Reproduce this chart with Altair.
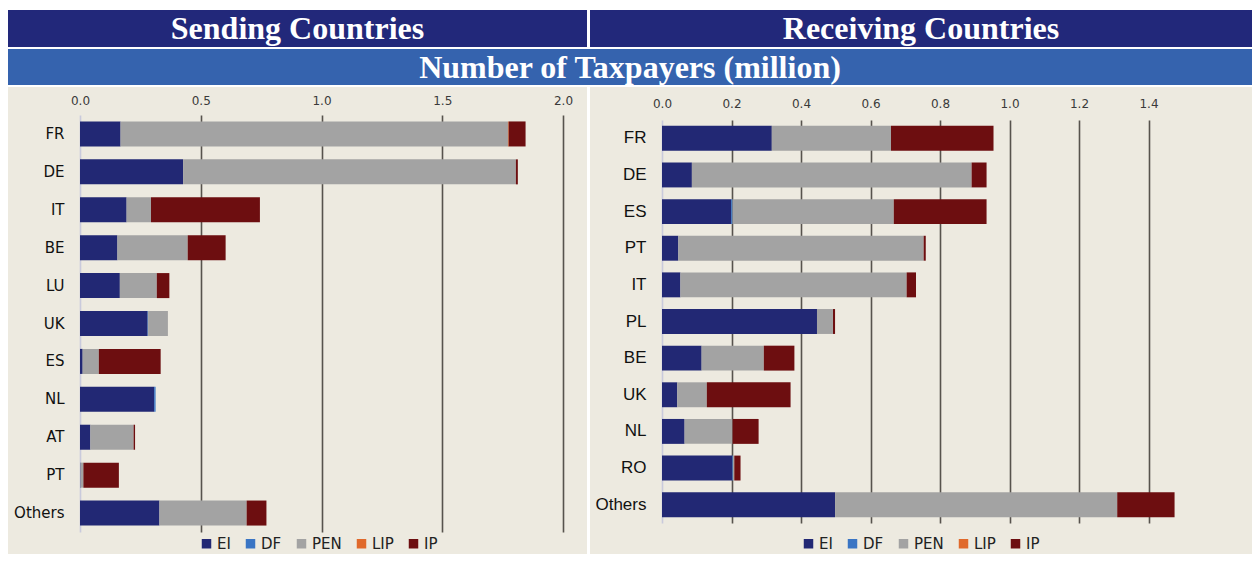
import altair as alt
import pandas as pd

# ---------------- data ----------------
types = ["EI", "DF", "PEN", "LIP", "IP"]
type_colors = ["#222874", "#3A75C4", "#A3A3A3", "#E0692B", "#6D0E10"]

panel_titles = ["Sending Countries", "Receiving Countries"]
main_title = "Number of Taxpayers (million)"

send_countries = ["FR", "DE", "IT", "BE", "LU", "UK", "ES", "NL", "AT", "PT", "Others"]
send_EI = [0.168, 0.427, 0.193, 0.155, 0.165, 0.280, 0.011, 0.307, 0.043, 0.002, 0.329]
send_DF = [0.0, 0.0, 0.0, 0.0, 0.0, 0.002, 0.0, 0.006, 0.0, 0.0, 0.0]
send_PEN = [1.604, 1.378, 0.101, 0.291, 0.153, 0.082, 0.067, 0.0, 0.179, 0.012, 0.361]
send_LIP = [0.003, 0.0, 0.0, 0.0, 0.0, 0.0, 0.0, 0.0, 0.0, 0.0, 0.0]
send_IP = [0.070, 0.008, 0.451, 0.157, 0.052, 0.0, 0.256, 0.0, 0.006, 0.147, 0.082]

recv_countries = ["FR", "DE", "ES", "PT", "IT", "PL", "BE", "UK", "NL", "RO", "Others"]
recv_EI = [0.316, 0.086, 0.199, 0.047, 0.053, 0.446, 0.114, 0.044, 0.065, 0.202, 0.498]
recv_DF = [0.0, 0.0, 0.004, 0.0, 0.0, 0.0, 0.0, 0.0, 0.0, 0.002, 0.0]
recv_PEN = [0.343, 0.805, 0.464, 0.706, 0.651, 0.046, 0.179, 0.085, 0.138, 0.004, 0.812]
recv_LIP = [0.0, 0.0, 0.0, 0.0, 0.0, 0.0, 0.0, 0.0, 0.0, 0.0, 0.0]
recv_IP = [0.295, 0.043, 0.267, 0.006, 0.027, 0.006, 0.088, 0.241, 0.075, 0.018, 0.165]

send_ticks = [0.0, 0.5, 1.0, 1.5, 2.0]
recv_ticks = [0.0, 0.2, 0.4, 0.6, 0.8, 1.0, 1.2, 1.4]

NAVY = "#22287A"
BLUE = "#3563AE"
BEIGE = "#EDEAE0"


def long_table(countries, series):
    rows = []
    for t_i, (t, vals) in enumerate(zip(types, series)):
        for c, v in zip(countries, vals):
            rows.append({"country": c, "type": t, "idx": t_i, "value": v})
    return pd.DataFrame(rows)


send_df = long_table(send_countries, [send_EI, send_DF, send_PEN, send_LIP, send_IP])
recv_df = long_table(recv_countries, [recv_EI, recv_DF, recv_PEN, recv_LIP, recv_IP])


def header(text, w, h, fill):
    return (
        alt.Chart(pd.DataFrame({"t": [text]}))
        .mark_text(font="Liberation Serif", fontWeight="bold", fontSize=32,
                   color="white", align="center", baseline="middle")
        .encode(x=alt.value(w / 2), y=alt.value(h / 2 + 0.5), text="t:N")
        .properties(width=w, height=h, view=alt.ViewBackground(fill=fill, strokeWidth=0))
    )


def panel(df, countries, ticks, xmax, xrange, yrange, pad_in, pad_out, w, h,
          ylab_font, ylab_size, xlab_pad, legx, legy):
    return (
        alt.Chart(df)
        .mark_bar()
        .encode(
            x=alt.X(
                "value:Q", stack="zero", title=None,
                scale=alt.Scale(domain=[0, xmax], range=xrange, nice=False),
                axis=alt.Axis(
                    orient="top", values=ticks, format=".1f", offset=-yrange[0],
                    ticks=False, tickSize=0, domain=False, labelPadding=xlab_pad,
                    labelFont="DejaVu Sans", labelFontSize=12, labelColor="#3A3A3A",
                    labelFlush=False, labelOverlap=False,
                    grid=True, gridWidth=1.6,
                    gridColor=alt.condition("datum.value == 0", alt.value("#C9CADC"), alt.value("#57534D")),
                ),
            ),
            y=alt.Y(
                "country:N", title=None,
                scale=alt.Scale(domain=countries, range=yrange,
                                paddingInner=pad_in, paddingOuter=pad_out),
                axis=alt.Axis(
                    orient="left", offset=-xrange[0], ticks=False, domain=False,
                    labelPadding=16, labelFont=ylab_font, labelFontSize=ylab_size,
                    labelColor="#111111", grid=False,
                ),
            ),
            color=alt.Color(
                "type:N",
                scale=alt.Scale(domain=types, range=type_colors),
                legend=alt.Legend(
                    title=None, orient="none", legendX=legx, legendY=legy,
                    direction="horizontal", symbolType="square", symbolSize=90,
                    symbolStrokeWidth=0, labelFont="DejaVu Sans", labelFontSize=15,
                    labelColor="#222222", columnPadding=12, labelOffset=3, padding=0,
                ),
            ),
            order=alt.Order("idx:Q"),
        )
        .properties(width=w, height=h, view=alt.ViewBackground(fill=BEIGE, strokeWidth=0))
    )


LW, RW, GAP = 579, 662, 3
PH = 467

left = panel(send_df, send_countries, send_ticks, 2.0, [72, 555], [28, 445], 0.34, 0.17,
             LW, PH, "DejaVu Sans", 15, 7.5, 191, 449)
right = panel(recv_df, recv_countries, recv_ticks, 1.4, [72, 558.5], [33, 436], 0.32, 0.16,
              RW, PH, "Liberation Sans", 17, 10, 211, 449)

row1 = alt.hconcat(header(panel_titles[0], LW, 37, NAVY),
                   header(panel_titles[1], RW, 37, NAVY), spacing=GAP)
row2 = header(main_title, LW + GAP + RW, 36, BLUE)
row3 = (
    alt.hconcat(left, right, spacing=GAP)
    .resolve_scale(x="independent", y="independent", color="independent")
    .resolve_legend(color="independent")
)

chart = (
    alt.vconcat(row1, row2, row3, spacing=2)
    .properties(padding={"left": 0, "top": 2, "right": 0, "bottom": 0}, background="white")
    .configure_view(strokeWidth=0)
)

chart.save("out.html", embed_options={"renderer": "svg", "actions": False})
